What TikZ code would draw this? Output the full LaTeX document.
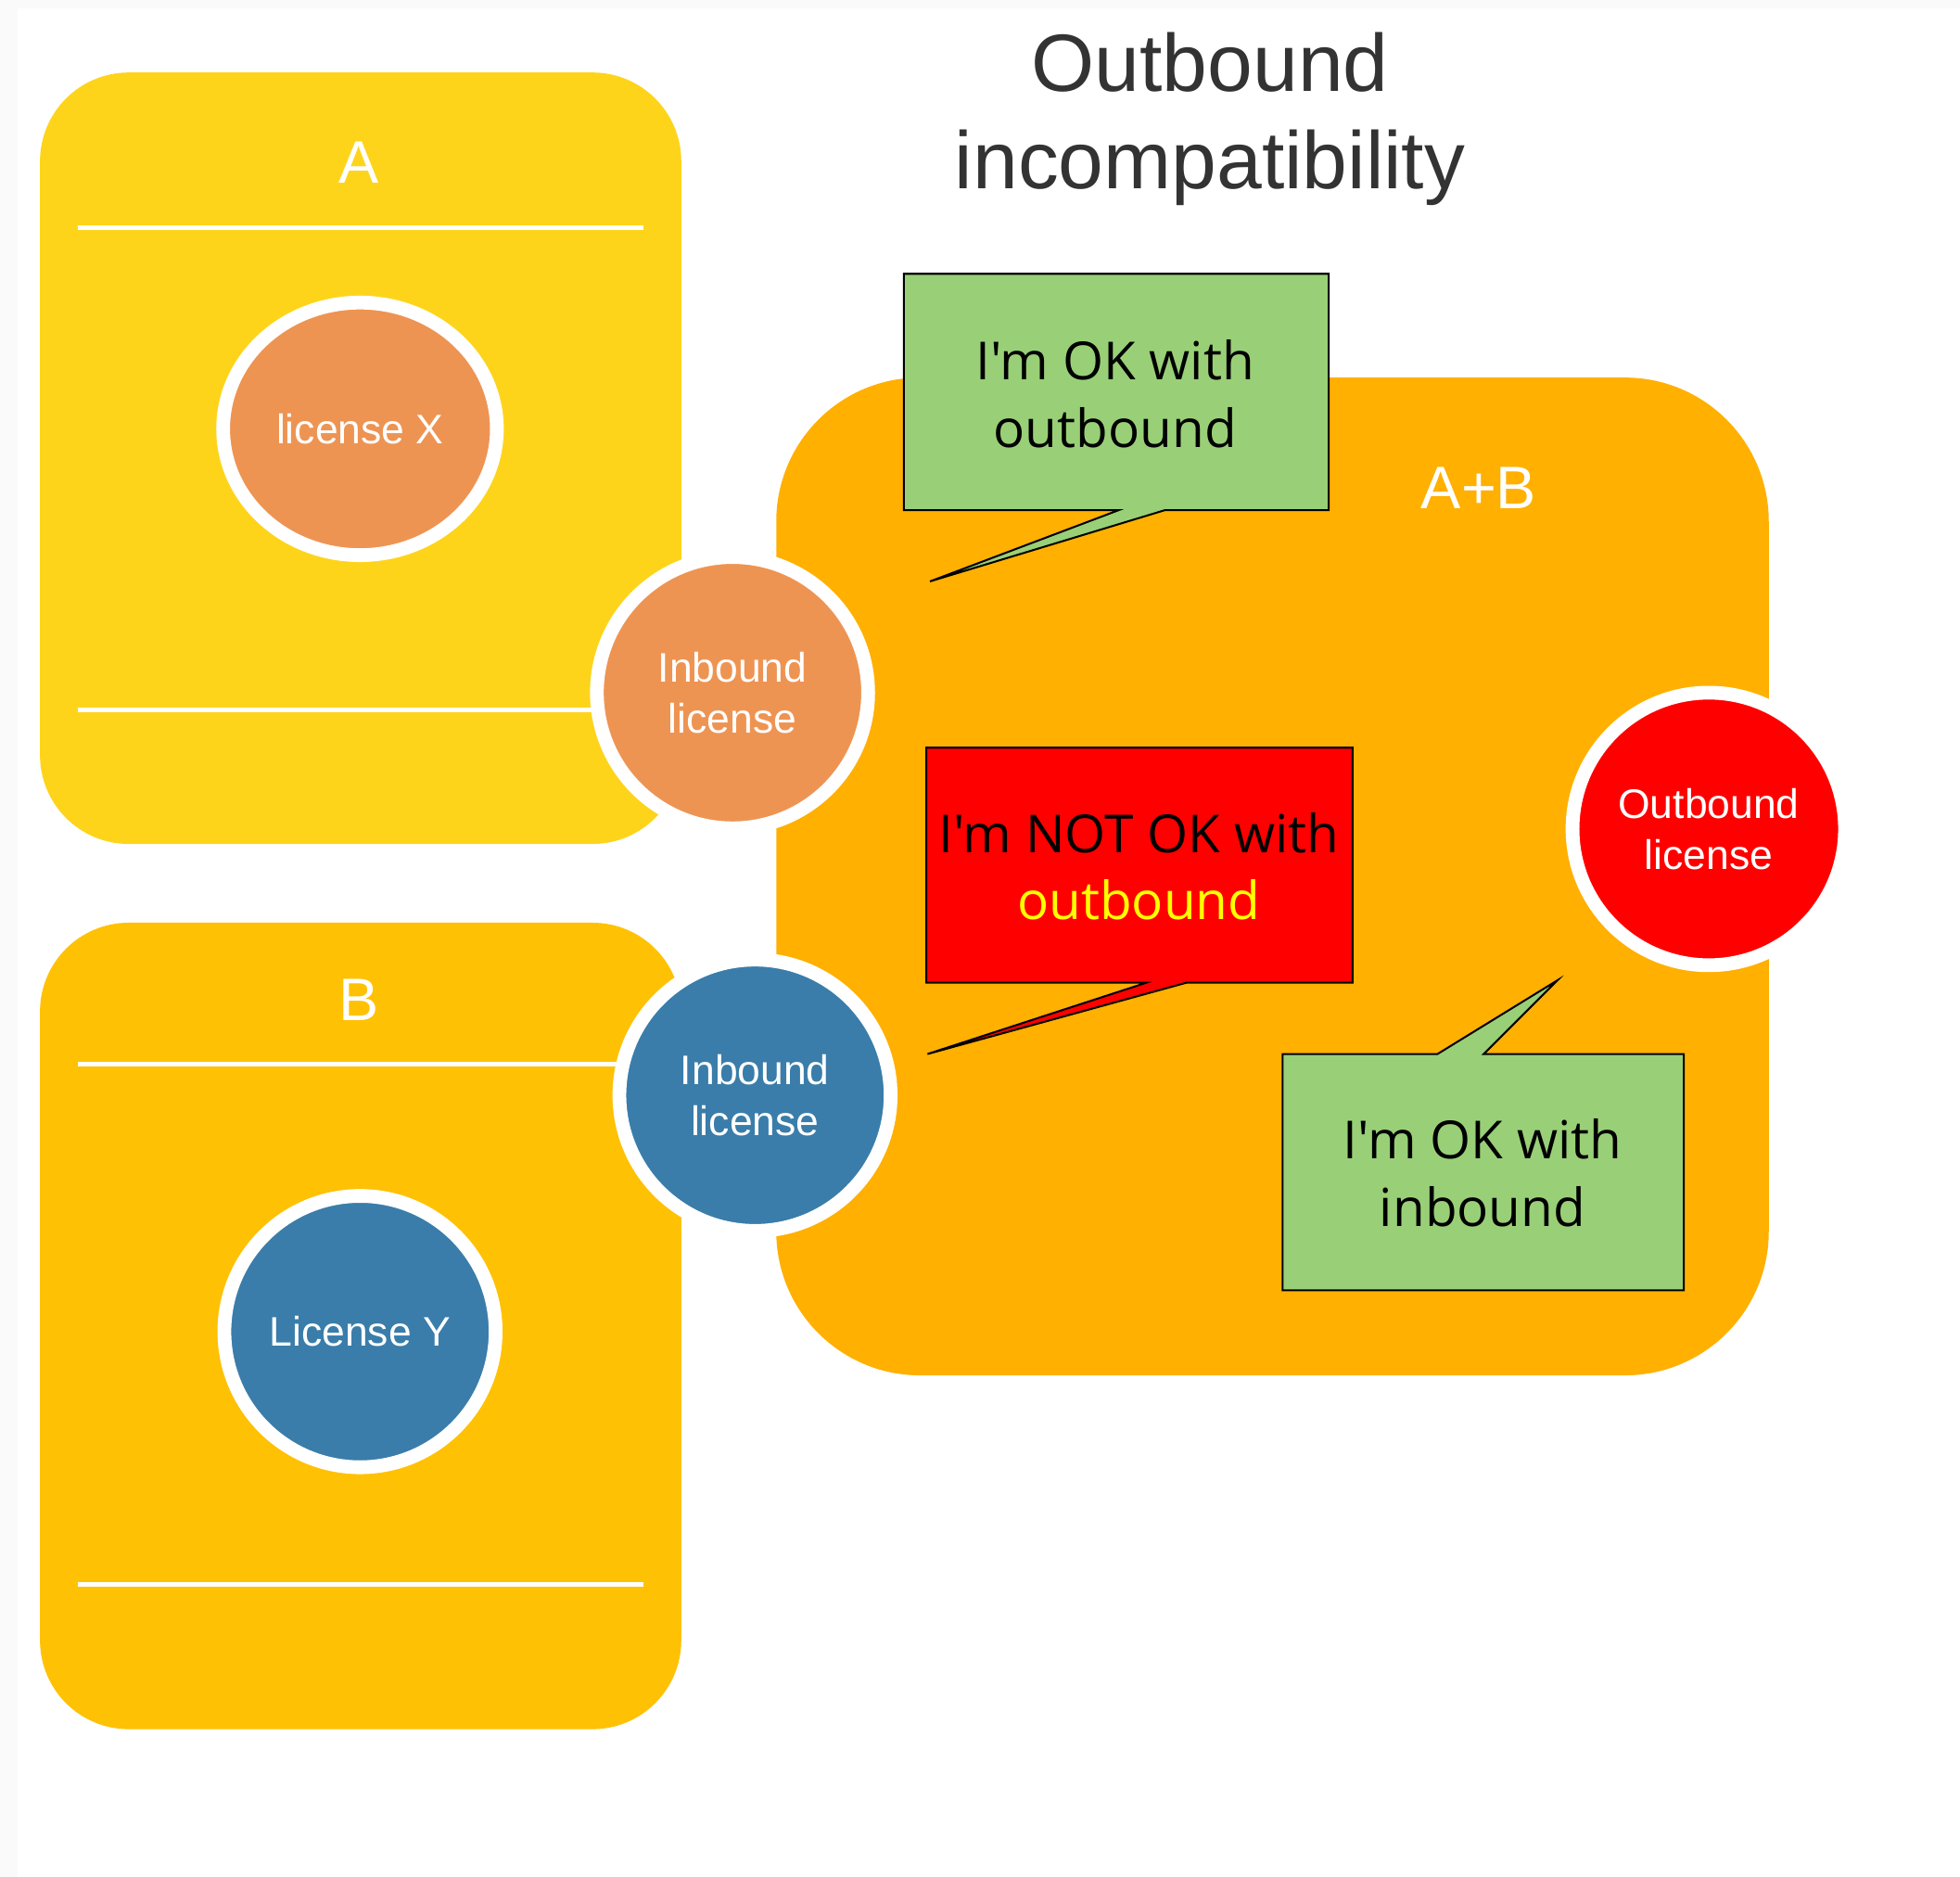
\documentclass[tikz,border=0pt]{standalone}
\usepackage{fontspec}
\usetikzlibrary{shapes.geometric}
\newfontfamily\lib{Liberation Sans}
\newfontfamily\opsans{Open Sans}
\definecolor{colA}{HTML}{FED41B}
\definecolor{colB}{HTML}{FFC103}
\definecolor{colAB}{HTML}{FFB000}
\definecolor{lorange}{HTML}{EE9453}
\definecolor{lblue}{HTML}{3A7DAA}
\definecolor{lred}{HTML}{FF0000}
\definecolor{cgreen}{HTML}{99D077}
\definecolor{titlegray}{HTML}{333333}
\definecolor{stripgray}{HTML}{FAFAFA}
\definecolor{tyellow}{HTML}{FFFF00}
\tikzset{
  boxlabel/.style={text=white, font=\lib\fontsize{48}{56}\selectfont, inner sep=0pt},
  sepline/.style={draw=white, line width=3.5},
  lic/.style={circle, draw=white, line width=11, minimum size=217, inner sep=0pt,
    text=white, align=center, font=\lib\fontsize{33}{41}\selectfont},
  licell/.style={ellipse, draw=white, line width=11, minimum width=219, minimum height=202,
    inner sep=0pt, text=white, align=center, font=\lib\fontsize{33}{41}\selectfont},
  callout/.style={draw=black, line width=1.5, line join=miter},
  callouttext/.style={align=center, inner sep=0pt, font=\opsans\fontsize{42}{54}\selectfont}
}
\begin{document}
\begin{tikzpicture}[x=1pt, y=-1pt]
\useasboundingbox (0,0) rectangle (1568,1501);
\fill[white] (0,0) rectangle (1568,1501);
\fill[stripgray] (0,0) rectangle (1568,7);
\fill[stripgray] (0,0) rectangle (14,1501);

% containers
\fill[colA, rounded corners=71] (32,58) rectangle (545,675);
\fill[colB, rounded corners=71] (32,738) rectangle (545,1383);
\fill[colAB, rounded corners=115] (621,302) rectangle (1415,1100);

\node[boxlabel] (labA) at (287,130) {A};
\node[boxlabel] (labB) at (287,800) {B};
\node[boxlabel] (labAB) at (1183,390) {A+B};

% separator lines
\draw[sepline] (62,182) -- (515,182);
\draw[sepline] (62,568) -- (515,568);
\draw[sepline] (62,851) -- (515,851);
\draw[sepline] (62,1267) -- (515,1267);

% licences
\node[licell, fill=lorange] (licX) at (288,343) {license X};
\node[lic, fill=lblue] (licY) at (288,1065) {License Y};
\node[lic, fill=lorange] (inA) at (586,554) {Inbound\\license};
\node[lic, fill=lblue] (inB) at (604,876) {Inbound\\license};
\node[lic, fill=lred, minimum size=218] (outAB) at (1367,663) {Outbound\\license};

% callouts
\filldraw[callout, fill=cgreen] (723,219) -- (1063,219) -- (1063,408) -- (932,408)
  -- (744,465) -- (895,408) -- (723,408) -- cycle;
\node[callouttext] (c1) at (892,315) {I'm OK with\\outbound};

\filldraw[callout, fill=lred] (741,598) -- (1082,598) -- (1082,786) -- (949,786)
  -- (742,843) -- (917,786) -- (741,786) -- cycle;
\node[callouttext] (c2) at (911,693) {I'm NOT OK with\\\textcolor{tyellow}{outbound}};

\filldraw[callout, fill=cgreen] (1026,843) -- (1150,843) -- (1246,784) -- (1187,843)
  -- (1347,843) -- (1347,1032) -- (1026,1032) -- cycle;
\node[callouttext] (c3) at (1186,938) {I'm OK with\\inbound};

% title
\node[text=titlegray, align=center, inner sep=0pt, font=\lib\fontsize{65}{78}\selectfont] (title) at (968,95) {Outbound\\incompatibility};
\end{tikzpicture}
\end{document}
